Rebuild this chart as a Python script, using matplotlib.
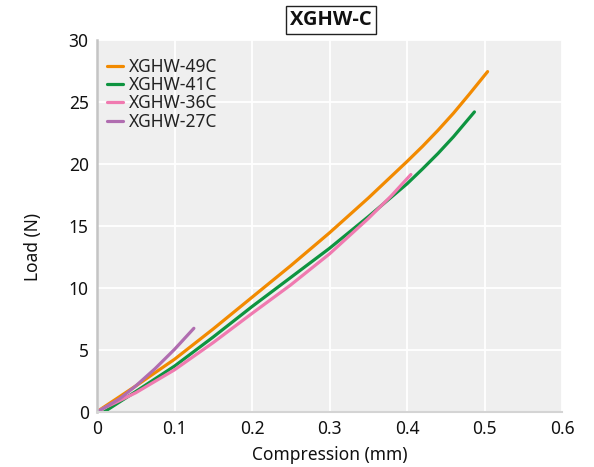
import matplotlib
matplotlib.use("Agg")
import matplotlib.pyplot as plt

# ---- data ----
series_names = ["XGHW-49C", "XGHW-41C", "XGHW-36C", "XGHW-27C"]

x_49c = [0.003, 0.05, 0.1, 0.15, 0.2, 0.25, 0.3, 0.35, 0.4, 0.42, 0.44, 0.46, 0.48, 0.504]
y_49c = [0.15, 2.1, 4.25, 6.7, 9.25, 11.8, 14.45, 17.25, 20.2, 21.42, 22.72, 24.1, 25.6, 27.45]

x_41c = [0.009, 0.05, 0.1, 0.15, 0.2, 0.25, 0.3, 0.35, 0.4, 0.42, 0.44, 0.46, 0.487]
y_41c = [0.0, 1.65, 3.7, 6.05, 8.5, 10.85, 13.2, 15.75, 18.4, 19.6, 20.85, 22.2, 24.2]

x_36c = [0.002, 0.05, 0.1, 0.15, 0.2, 0.25, 0.3, 0.35, 0.38, 0.405]
y_36c = [0.1, 1.55, 3.4, 5.6, 7.95, 10.25, 12.75, 15.6, 17.45, 19.15]

x_27c = [0.003, 0.03, 0.05, 0.075, 0.1, 0.125]
y_27c = [0.1, 1.1, 2.1, 3.5, 5.05, 6.75]

colors = ["#F28A00", "#0E9440", "#F07AB0", "#B06DB0"]

x_ticks = [0, 0.1, 0.2, 0.3, 0.4, 0.5, 0.6]
x_tick_labels = ["0", "0.1", "0.2", "0.3", "0.4", "0.5", "0.6"]
y_ticks = [0, 5, 10, 15, 20, 25, 30]
y_tick_labels = ["0", "5", "10", "15", "20", "25", "30"]

title = "XGHW-C"
x_label = "Compression (mm)"
y_label = "Load (N)"

# ---- figure ----
plt.rcParams["font.family"] = ["Noto Sans", "DejaVu Sans"]
W, H = 594, 467
fig = plt.figure(figsize=(W / 100, H / 100), dpi=100)
ax = fig.add_axes([97 / W, 1 - 412 / H, (562 - 97) / W, (412 - 40) / H])
ax.set_facecolor("#EFEFEF")

xs = [x_49c, x_41c, x_36c, x_27c]
ys = [y_49c, y_41c, y_36c, y_27c]
for xv, yv, name, c in zip(xs, ys, series_names, colors):
    ax.plot(xv, yv, color=c, lw=2.3, label=name, solid_capstyle="round",
            solid_joinstyle="round")

ax.set_xlim(0, 0.6)
ax.set_ylim(0, 30)
ax.set_xticks(x_ticks)
ax.set_xticklabels(x_tick_labels)
ax.set_yticks(y_ticks)
ax.set_yticklabels(y_tick_labels)
ax.grid(True, color="white", lw=1.3)
ax.set_axisbelow(True)
ax.tick_params(length=0, labelsize=12.5, colors="#111111", pad=6)

for s in ["top", "right"]:
    ax.spines[s].set_visible(False)
ax.spines["left"].set_color("#C4C4C4")
ax.spines["left"].set_linewidth(1.8)
ax.spines["bottom"].set_color("#D4D4D4")
ax.spines["bottom"].set_linewidth(1.5)

fig.text(0.5 * (97 + 562) / W, 1 - 455 / H, x_label, ha="center", va="center",
         fontsize=12.5, color="#111111")
fig.text(33 / W, 1 - 247 / H, y_label, ha="center", va="center", rotation=90,
         fontsize=12.5, color="#111111")

fig.text(331 / W, 1 - 20 / H, title, ha="center", va="center",
         fontsize=14.5, fontweight="bold", family=["Open Sans", "DejaVu Sans"],
         color="#111111",
         bbox=dict(boxstyle="square,pad=0.2", fc="white", ec="#222222", lw=1.0))

leg = ax.legend(loc="upper left", bbox_to_anchor=(-0.005, 0.985), frameon=False,
                fontsize=12.5, handlelength=0.95, handletextpad=0.3,
                labelspacing=0.02, borderaxespad=0.3)
for t in leg.get_texts():
    t.set_color("#222222")

fig.savefig("out.png", dpi=100)
